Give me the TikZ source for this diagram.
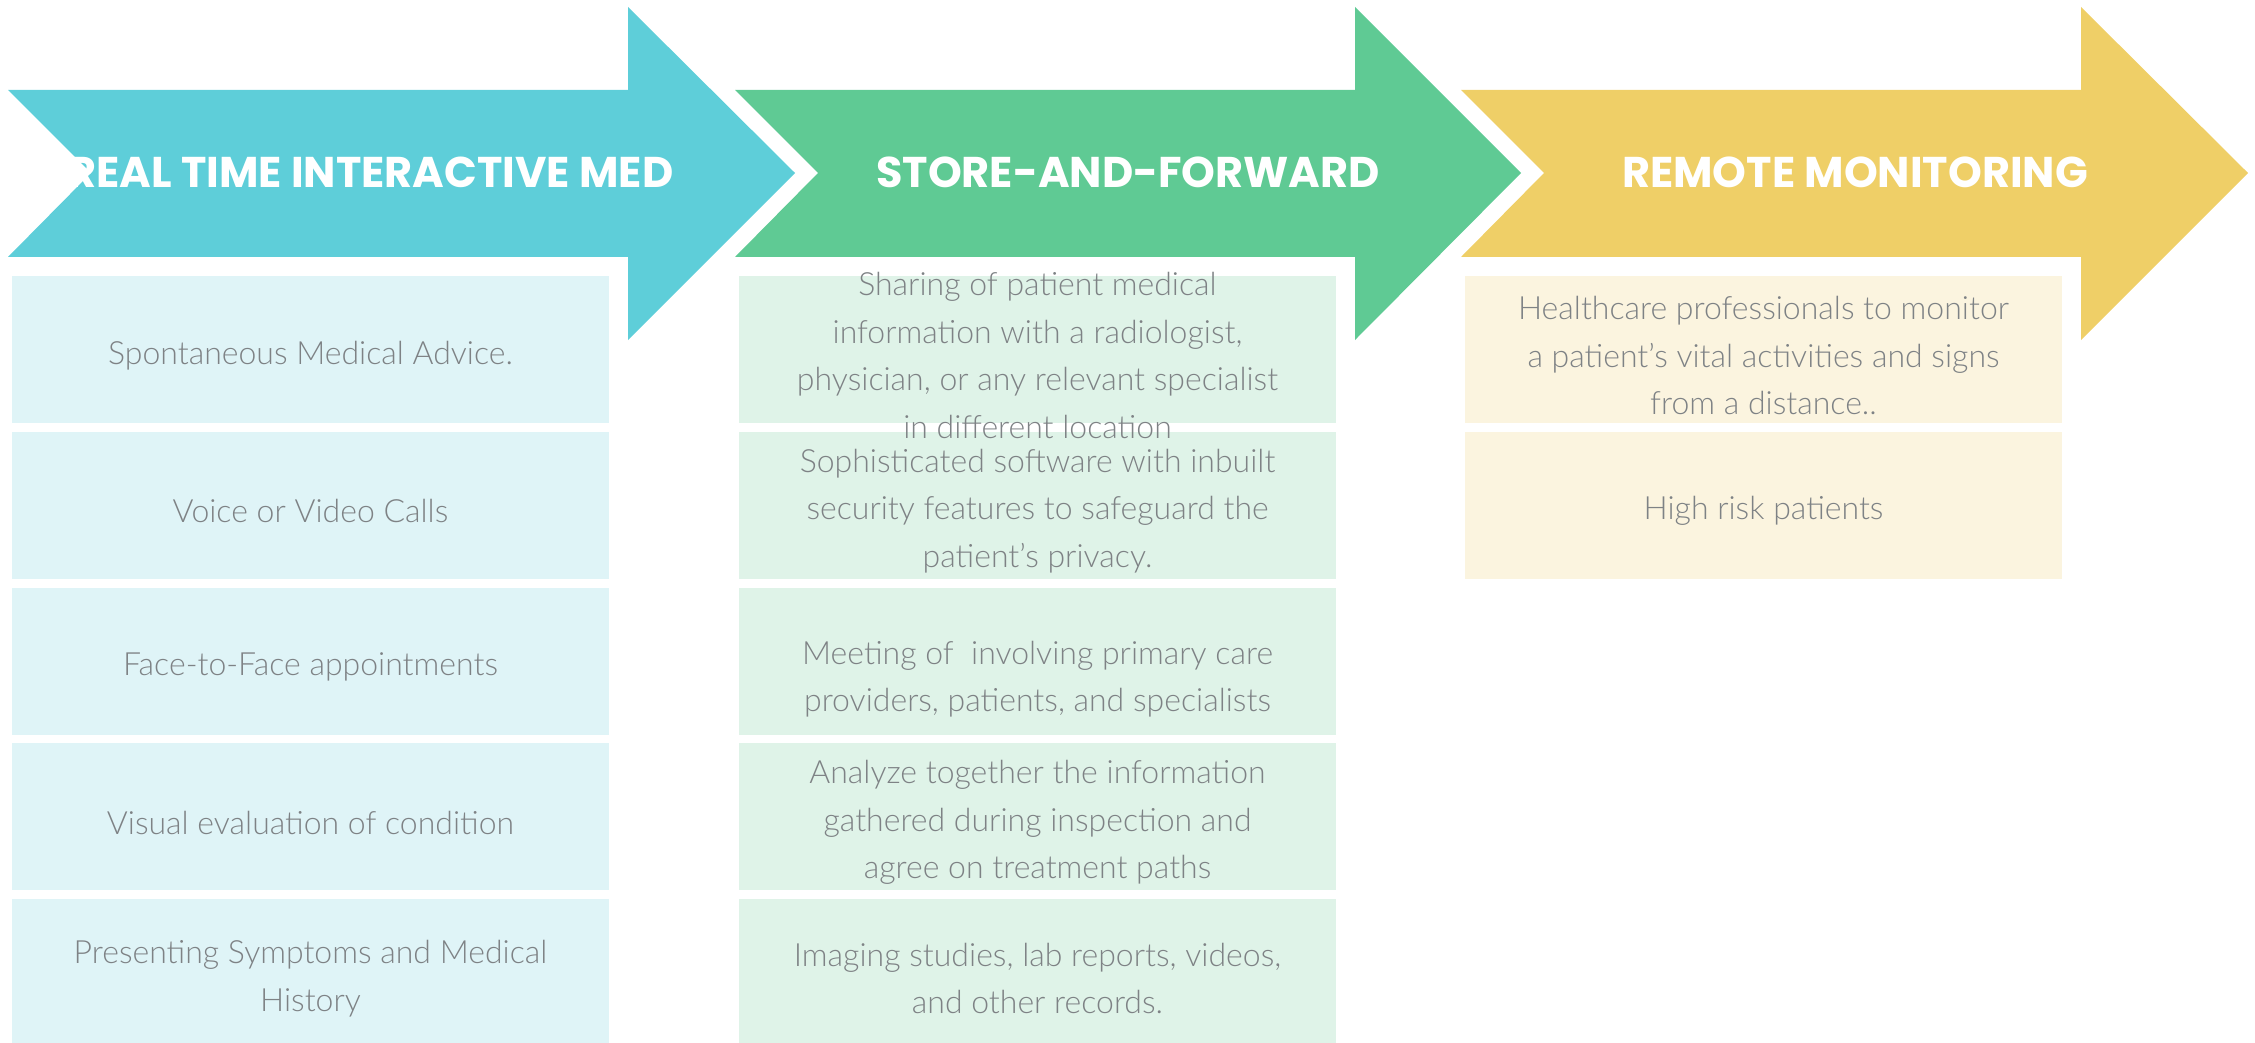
\documentclass[tikz,border=0pt]{standalone}
\usepackage{fontspec}
\usepackage{tikz}
\newfontfamily\headfont{Poppins}
\newfontfamily\bodyfont{Lato Light}
\definecolor{rtblue}{HTML}{5ECED9}
\definecolor{sfgreen}{HTML}{5FCA94}
\definecolor{rmyellow}{HTML}{EFCF67}
\definecolor{rtpale}{HTML}{DFF4F7}
\definecolor{sfpale}{HTML}{DFF3E8}
\definecolor{rmpale}{HTML}{FBF4DF}
\definecolor{boxtext}{HTML}{7E8285}

\begin{document}
\begin{tikzpicture}[x=1pt,y=-1pt,
	every node/.style={inner sep=0pt},
	heading/.style={text=white,font={\headfont\bfseries\fontsize{43}{43}\selectfont}},
	cell/.style={minimum width=597pt,minimum height=147pt},
	rtcell/.style={cell,fill=rtpale},
	sfcell/.style={cell,fill=sfpale},
	rmcell/.style={cell,fill=rmpale},
	celltext/.style={align=center,text=boxtext,yshift=-6pt,
		font={\bodyfont\fontsize{32}{47.5}\selectfont}}]
	\useasboundingbox (0,0) rectangle (2255,1043);
	\fill [rtblue] (8,90) -- (628,90) -- (628,7) -- (795,173) -- (628,340) -- (628,257) -- (8,257) -- (91,173) -- cycle;
	\fill [sfgreen] (735,90) -- (1355,90) -- (1355,7) -- (1521,173) -- (1355,340) -- (1355,257) -- (735,257) -- (818,173) -- cycle;
	\fill [rmyellow] (1461,90) -- (2081,90) -- (2081,7) -- (2248,173) -- (2081,340) -- (2081,257) -- (1461,257) -- (1544,173) -- cycle;
	\node [heading] (rthead) at (371,172) {REAL TIME INTERACTIVE MED};
	\node [heading] (sfhead) at (1128,172) {STORE-AND-FORWARD};
	\node [heading] (rmhead) at (1855,172) {REMOTE MONITORING};
	\node [rtcell] (rt1) at (310.5,349.5) {};
	\node [rtcell] (rt2) at (310.5,505) {};
	\node [rtcell] (rt3) at (310.5,661) {};
	\node [rtcell] (rt4) at (310.5,816.5) {};
	\node [rtcell] (rt5) at (310.5,972.5) {};
	\node [sfcell] (sf1) at (1037.5,349.5) {};
	\node [sfcell] (sf2) at (1037.5,505) {};
	\node [sfcell] (sf3) at (1037.5,661) {};
	\node [sfcell] (sf4) at (1037.5,816.5) {};
	\node [sfcell] (sf5) at (1037.5,972.5) {};
	\node [rmcell] (rm1) at (1763.5,349.5) {};
	\node [rmcell] (rm2) at (1763.5,505) {};
	\node [celltext] (rt1text) at (rt1) {Spontaneous Medical Advice.};
	\node [celltext] (rt2text) at (rt2) {Voice or Video Calls};
	\node [celltext] (rt3text) at (rt3) {Face-to-Face appointments};
	\node [celltext] (rt4text) at (rt4) {Visual evaluation of condition};
	\node [celltext] (rt5text) at (rt5) {Presenting Symptoms and Medical\\History};
	\node [celltext] (sf1text) at (sf1) {Sharing of patient medical\\information with a radiologist,\\physician, or any relevant specialist\\in different location};
	\node [celltext] (sf2text) at (sf2) {Sophisticated software with inbuilt\\security features to safeguard the\\patient’s privacy.};
	\node [celltext] (sf3text) at (sf3) {\mbox{}\\Meeting of \ involving primary care\\providers, patients, and specialists};
	\node [celltext] (sf4text) at (sf4) {Analyze together the information\\gathered during inspection and\\agree on treatment paths};
	\node [celltext] (sf5text) at (sf5) {Imaging studies, lab reports, videos,\\and other records.};
	\node [celltext] (rm1text) at (rm1) {Healthcare professionals to monitor\\a patient’s vital activities and signs\\from a distance..};
	\node [celltext] (rm2text) at (rm2) {High risk patients};
\end{tikzpicture}
\end{document}
